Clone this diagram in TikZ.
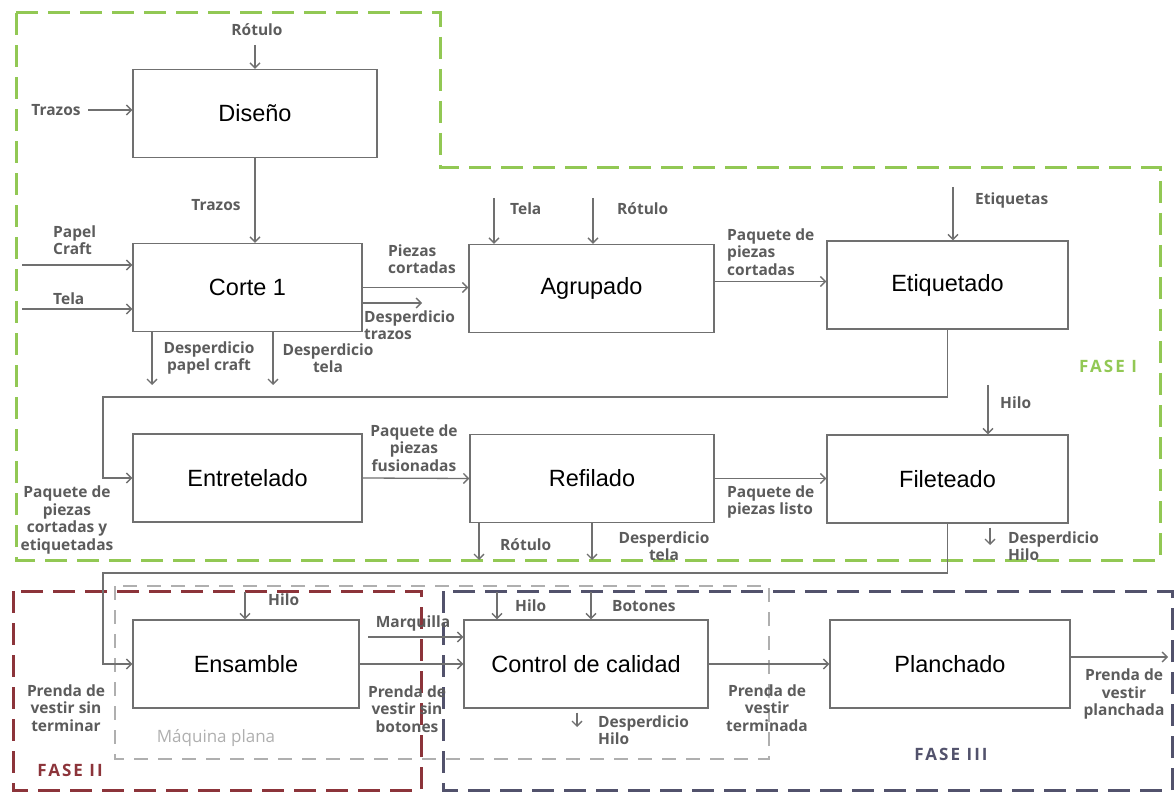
\documentclass[tikz,border=0pt]{standalone}
\usepackage{fontspec}
\setmainfont{Liberation Sans}
\newfontfamily\lblfont{Open Sans}
\newfontfamily\fasefont[LetterSpace=12]{Open Sans}
\usetikzlibrary{arrows.meta}

\definecolor{fasegreen}{RGB}{146,200,84}
\definecolor{fasered}{RGB}{140,52,58}
\definecolor{faseblue}{RGB}{82,82,108}
\definecolor{maqgray}{RGB}{175,175,175}
\definecolor{linegray}{RGB}{112,112,112}
\definecolor{txtgray}{RGB}{92,92,92}

\begin{document}
\begin{tikzpicture}[
  x=1pt, y=-1pt,
  box/.style={draw=linegray, line width=1.4pt, fill=white, minimum height=88pt, inner sep=0pt, font=\fontsize{23.5}{27}\selectfont},
  lbl/.style={font=\lblfont\bfseries\fontsize{15.5}{17.5}\selectfont, text=txtgray, align=center, inner sep=0pt},
  faselbl/.style={font=\fasefont\bfseries\fontsize{17}{20}\selectfont, inner sep=0pt},
  arrow/.style={-{Straight Barb[length=5pt,width=10pt]}, draw=linegray, line width=1.3pt},
  fase/.style={line width=3pt, dash pattern=on 22pt off 10pt}
]
\useasboundingbox (0,0) rectangle (1176,794);

\draw[fase, draw=fasegreen] (16,13) -- (440,13) -- (440,168) -- (1160,168) -- (1160,560) -- (16,560) -- cycle;
\draw[line width=2pt, draw=maqgray, dash pattern=on 14pt off 10pt] (115,586) rectangle (769,759);
\draw[fase, draw=fasered] (13,591) rectangle (421,790);
\draw[fase, draw=faseblue] (443,591) rectangle (1172,790);

\node[box, minimum width=244pt] (diseno) at (255,113.5) {Diseño};
\node[box, minimum width=229pt] (corte) at (247.5,287.5) {Corte 1};
\node[box, minimum width=245pt] (agrupado) at (591.5,288.5) {Agrupado};
\node[box, minimum width=241pt] (etiquetado) at (947.5,285) {Etiquetado};
\node[box, minimum width=229pt] (entretelado) at (247.5,478) {Entretelado};
\node[box, minimum width=244pt] (refilado) at (592,478.5) {Refilado};
\node[box, minimum width=241pt] (fileteado) at (947.5,479) {Fileteado};
\node[box, minimum width=226pt] (ensamble) at (246,664) {Ensamble};
\node[box, minimum width=244pt] (control) at (586,664) {Control de calidad};
\node[box, minimum width=240pt] (planchado) at (950,664) {Planchado};

\coordinate (rot1) at (255,45);
\coordinate (tra1) at (88,110);
\coordinate (pap) at (22,265);
\coordinate (tel1) at (22,309);
\coordinate (dtra) at (422,303);
\coordinate (dpap) at (152,385);
\coordinate (dtel) at (273,385);
\coordinate (tel2) at (494,198);
\coordinate (rot2) at (593,198);
\coordinate (etq) at (953,187);
\coordinate (bend1) at (103,397);
\coordinate (rot3) at (479,560);
\coordinate (dtel3) at (592,560);
\coordinate (hil4) at (988,385);
\coordinate (dhil4) at (990,545);
\coordinate (bend2) at (103,573);
\coordinate (hil5) at (245,592);
\coordinate (marq) at (368,637);
\coordinate (hil6) at (497,592);
\coordinate (bot6) at (591,592);
\coordinate (dhil6) at (577,727);
\coordinate (out) at (1168,657);

\draw[arrow] (rot1) -- (rot1 |- diseno.north);
\draw[arrow] (tra1) -- (tra1 -| diseno.west);
\draw[arrow] (diseno.south) -- (diseno.south |- corte.north);
\draw[arrow] (pap) -- (pap -| corte.west);
\draw[arrow] (tel1) -- (tel1 -| corte.west);
\draw[arrow] (corte.east) -- (corte.east -| agrupado.west);
\draw[arrow] (corte.east |- dtra) -- (dtra);
\draw[arrow] (corte.south -| dpap) -- (dpap);
\draw[arrow] (corte.south -| dtel) -- (dtel);
\draw[arrow] (tel2) -- (tel2 |- agrupado.north);
\draw[arrow] (rot2) -- (rot2 |- agrupado.north);
\draw[arrow] ([yshift=7pt]agrupado.east) -- ([yshift=7pt]agrupado.east -| etiquetado.west);
\draw[arrow] (etq) -- (etq |- etiquetado.north);
\draw[arrow] (etiquetado.south) |- (bend1) |- (entretelado.west);
\draw[arrow] (entretelado.east) -- (refilado.west);
\draw[arrow] (refilado.south -| rot3) -- (rot3);
\draw[arrow] (refilado.south -| dtel3) -- (dtel3);
\draw[arrow] (refilado.east) -- (refilado.east -| fileteado.west);
\draw[arrow] (hil4) -- (hil4 |- fileteado.north);
\draw[arrow] ([yshift=-4pt]fileteado.south -| dhil4) -- (dhil4);
\draw[arrow] (fileteado.south) |- (bend2) |- (ensamble.west);
\draw[arrow] (hil5) -- (hil5 |- ensamble.north);
\draw[arrow] (marq) -- (marq -| control.west);
\draw[arrow] (ensamble.east) -- (control.west);
\draw[arrow] (hil6) -- (hil6 |- control.north);
\draw[arrow] (bot6) -- (bot6 |- control.north);
\draw[arrow] ([yshift=-4pt]control.south -| dhil6) -- (dhil6);
\draw[arrow] (control.east) -- (planchado.west);
\draw[arrow] (planchado.east |- out) -- (out);

\node[lbl] (lrot1) at (257,30) {Rótulo};
\node[lbl] (ltra1) at (56,110) {Trazos};
\node[lbl] (ltra2) at (216,205) {Trazos};
\node[lbl, align=left, anchor=west] (lpap) at (53,240) {Papel\\Craft};
\node[lbl, anchor=west] (ltel1) at (53,299) {Tela};
\node[lbl, align=left, anchor=west] (lpie) at (388,259) {Piezas\\cortadas};
\node[lbl, align=left, anchor=west] (ldtra) at (364,325) {Desperdicio\\trazos};
\node[lbl] (ldpap) at (209,358) {Desperdicio\\papel craft};
\node[lbl] (ldtel) at (328,358) {Desperdicio\\tela};
\node[lbl, anchor=west] (ltel2) at (510,209) {Tela};
\node[lbl, anchor=west] (lrot2) at (617,209) {Rótulo};
\node[lbl, align=left, anchor=west] (lpaq1) at (727,252) {Paquete de\\piezas\\cortadas};
\node[lbl, anchor=west] (letq) at (975,200) {Etiquetas};
\node[lbl] (lpaq2) at (67,520) {Paquete de\\piezas\\cortadas y\\etiquetadas};
\node[lbl] (lfus) at (414,448) {Paquete de\\piezas\\fusionadas};
\node[lbl, anchor=west] (lrot3) at (500,545) {Rótulo};
\node[lbl] (ldtel3) at (664,546) {Desperdicio\\tela};
\node[lbl, align=left, anchor=west] (llis) at (727,502) {Paquete de\\piezas listo};
\node[lbl, anchor=west] (lhil4) at (1000,403) {Hilo};
\node[lbl, align=left, anchor=west] (ldhil4) at (1008,546) {Desperdicio\\Hilo};
\node[lbl] (lpst) at (66,708) {Prenda de\\vestir sin\\terminar};
\node[lbl, anchor=west] (lhil5) at (268,600) {Hilo};
\node[lbl] (lmarq) at (413,623) {Marquilla};
\node[lbl] (lpsb) at (407,709) {Prenda de\\vestir sin\\botones};
\node[lbl, anchor=west] (lhil6) at (515,606) {Hilo};
\node[lbl, anchor=west] (lbot6) at (612,606) {Botones};
\node[lbl, align=left, anchor=west] (ldhil6) at (598,730) {Desperdicio\\Hilo};
\node[lbl] (lpvt) at (767,708) {Prenda de\\vestir\\terminada};
\node[lbl] (lpvp) at (1124,694) {Prenda de\\vestir\\planchada};

\node[faselbl, text=fasegreen] (lfase1) at (1108,366) {FASE I};
\node[faselbl, text=fasered] (lfase2) at (70,770) {FASE II};
\node[faselbl, text=faseblue] (lfase3) at (951,754) {FASE III};
\node[lbl, text=maqgray, font=\lblfont\fontsize{17}{20}\selectfont] (lmaq) at (216,738) {Máquina plana};
\end{tikzpicture}
\end{document}
